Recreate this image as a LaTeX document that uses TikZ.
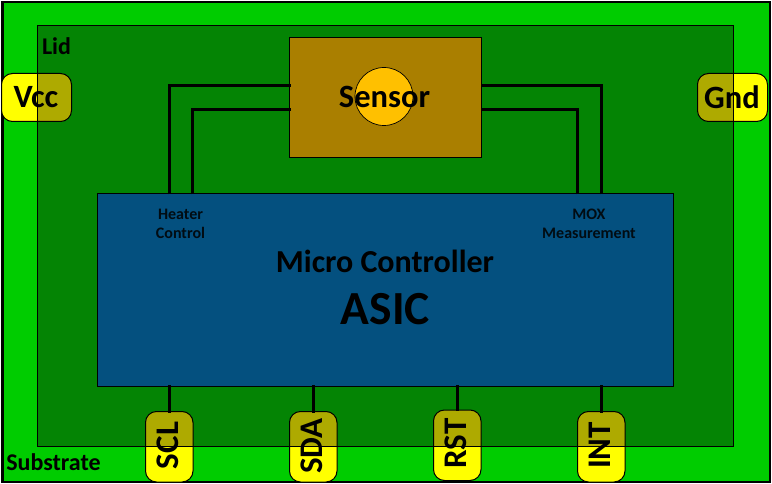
\documentclass[tikz,border=0pt]{standalone}
\usepackage{xcolor}
\usepackage{fontspec}
\setmainfont{Carlito}
\usetikzlibrary{positioning,calc}

\definecolor{substrategreen}{RGB}{0,204,0}
\definecolor{lidgreen}{RGB}{4,132,4}
\definecolor{pinyellow}{RGB}{255,255,0}
\definecolor{pinolive}{RGB}{174,170,0}
\definecolor{sensorbrown}{RGB}{170,127,0}
\definecolor{sensorgold}{RGB}{255,192,0}
\definecolor{asicblue}{RGB}{4,80,127}

\begin{document}
\begin{tikzpicture}[
    x=1pt, y=-1pt,
    plate/.style = {rectangle, draw, line width=1pt, inner sep=0pt, outer sep=0pt},
    widepin/.style = {plate, minimum width=70pt, minimum height=48pt, rounded corners=11pt},
    tallpin/.style = {plate, minimum width=47.5pt, minimum height=70.5pt, rounded corners=11pt},
    pinlabel/.style = {inner sep=0pt, font=\fontsize{32.5}{32.5}\selectfont\bfseries},
    sidelabel/.style = {pinlabel, rotate=90, font=\fontsize{33}{33}\selectfont\bfseries},
    tag/.style = {inner sep=0pt, align=center, font=\fontsize{16}{18.5}\selectfont\bfseries, text=black!85!asicblue},
    wire/.style = {draw, line width=3pt, shorten <=-1pt, shorten >=-1pt}
]
\useasboundingbox (0,0) rectangle (772,484);
\node[plate, line width=2.6pt, fill=substrategreen, minimum width=767.8pt, minimum height=479.8pt] (substrate) at (386.1,242.1) {};

% pins are yellow on the substrate
\node[widepin, fill=pinyellow] (vcc) at (36.5,97.5) {};
\node[widepin, fill=pinyellow] (gnd) at (732.5,97.5) {};
\node[tallpin, fill=pinyellow] (scl) at (169.25,446.75) {};
\node[tallpin, fill=pinyellow, right=96.5pt of scl] (sda) {};
\node[tallpin, fill=pinyellow, right=96.5pt of sda, yshift=1.5pt] (rst) {};
\node[tallpin, fill=pinyellow, right=96.5pt of rst, yshift=-1.5pt] (int) {};

\node[plate, fill=lidgreen, minimum width=696pt, minimum height=420.5pt] (lid) at (385.5,235.75) {};

% and darker under the lid
\begin{scope}
\clip (lid.south west) rectangle (lid.north east);
\foreach \pin in {vcc,gnd,scl,sda,rst,int}
    \draw[line width=1pt, fill=pinolive, rounded corners=11pt] (\pin.south west) rectangle (\pin.north east);
\end{scope}
\draw[line width=1pt] (lid.south west) rectangle (lid.north east);

\node[plate, fill=sensorbrown, minimum width=192pt, minimum height=120pt, below=12pt of lid.north] (sensor) {};
\node[circle, draw, line width=0.7pt, fill=sensorgold, minimum size=58pt, inner sep=0pt] (element) at (384,96.5) {};
\node[plate, fill=asicblue, minimum width=576pt, minimum height=192.5pt, below=36pt of sensor] (asic) {};

\coordinate (heaterA) at (169,85.5);
\coordinate (heaterB) at (192.5,109.5);
\coordinate (moxA) at (601,85.5);
\coordinate (moxB) at (577.5,109.5);

\path[wire] (asic.north -| heaterA) -- (heaterA) -- (sensor.west |- heaterA);
\path[wire] (asic.north -| heaterB) -- (heaterB) -- (sensor.west |- heaterB);
\path[wire] (asic.north -| moxA) -- (moxA) -- (sensor.east |- moxA);
\path[wire] (asic.north -| moxB) -- (moxB) -- (sensor.east |- moxB);
\path[wire] (asic.south -| scl) -- (scl.north);
\path[wire] (asic.south -| sda) -- (sda.north);
\path[wire] (asic.south -| rst) -- (rst.north);
\path[wire] (asic.south -| int) -- (int.north);

\node[pinlabel] (sensorlabel) at (384.5,97) {Sensor};
\node[pinlabel] (vcclabel) at (36,97.5) {Vcc};
\node[pinlabel] (gndlabel) at (732,97) {Gnd};
\node[sidelabel] (scllabel) at (168,445.5) {SCL};
\node[sidelabel] (sdalabel) at (312,446) {SDA};
\node[sidelabel] (rstlabel) at (456,443.5) {RST};
\node[sidelabel] (intlabel) at (600,445.5) {INT};

\node[inner sep=0pt, font=\fontsize{24}{24}\selectfont\bfseries] (lidlabel) at (56.5,46) {Lid};
\node[inner sep=0pt, font=\fontsize{24}{24}\selectfont\bfseries] (substratelabel) at (53.5,462) {Substrate};

\node[tag] (heaterlabel) at (180.5,224) {Heater\\Control};
\node[tag] (moxlabel) at (589,224) {MOX\\Measurement};
\node[inner sep=0pt, font=\fontsize{32}{32}\selectfont\bfseries] (mculabel) at (385,261) {Micro Controller};
\node[inner sep=0pt, font=\fontsize{47.5}{47.5}\selectfont\bfseries] (asiclabel) at (385.5,309) {ASIC};
\end{tikzpicture}
\end{document}
